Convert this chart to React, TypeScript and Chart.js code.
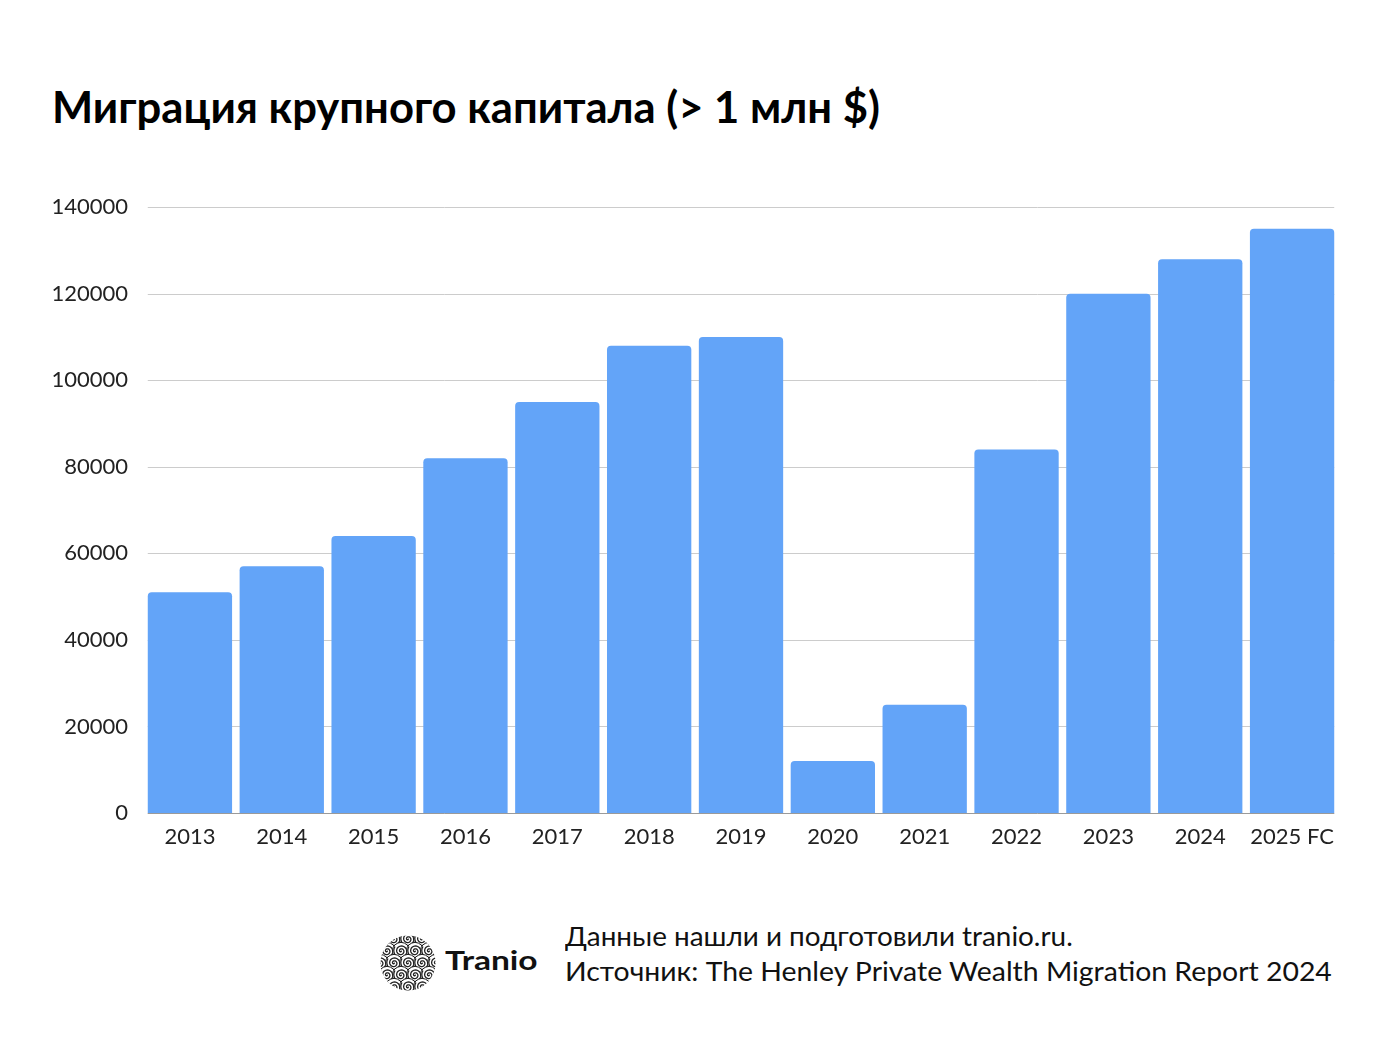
import React, { useEffect, useLayoutEffect, useRef, useState } from "react";
import { Chart, registerables } from "chart.js";

Chart.register(...registerables);

const categories = ["2013", "2014", "2015", "2016", "2017", "2018", "2019", "2020", "2021", "2022", "2023", "2024", "2025 FC"];
const values = [51000, 57000, 64000, 82000, 95000, 108000, 110000, 12000, 25000, 84000, 120000, 128000, 135000];
const yMin = 0;
const yMax = 140000;
const yStep = 20000;
const titleText = "Миграция крупного капитала (> 1 млн $)";
const footerLines = ["Данные нашли и подготовили tranio.ru.", "Источник: The Henley Private Wealth Migration Report 2024"];
const brandText = "Tranio";

const BAR_COLOR = "rgb(99,164,248)";
const BAR_PCT = 0.918;
const FONT = "Lato, 'Open Sans', sans-serif";

function FitText({ text, width, style }: { text: string; width: number; style: React.CSSProperties }) {
  const ref = useRef<HTMLSpanElement>(null);
  const [sx, setSx] = useState(1);
  useLayoutEffect(() => {
    const measure = () => {
      if (ref.current) {
        const w = ref.current.offsetWidth;
        if (w > 0) setSx(width / w);
      }
    };
    measure();
    (document as any).fonts?.ready?.then(measure);
  }, [text, width]);
  return (
    <span
      ref={ref}
      style={{
        ...style,
        display: "inline-block",
        whiteSpace: "nowrap",
        transform: `scaleX(${sx})`,
        transformOrigin: "left top",
      }}
    >
      {text}
    </span>
  );
}

function spiralPath(cx: number, cy: number, r: number, turns: number): string {
  const steps = 60;
  let d = "";
  for (let i = 0; i <= steps; i++) {
    const t = i / steps;
    const a = t * turns * Math.PI * 2;
    const rr = t * r;
    const x = cx + rr * Math.cos(a);
    const y = cy + rr * Math.sin(a);
    d += (i === 0 ? "M" : "L") + x.toFixed(2) + " " + y.toFixed(2) + " ";
  }
  return d;
}

const logoSpirals: [number, number][] = [
  [-14, -24], [0, -24], [14, -24],
  [-21, -12], [-7, -12], [7, -12], [21, -12],
  [-28, 0], [-14, 0], [0, 0], [14, 0], [28, 0],
  [-21, 12], [-7, 12], [7, 12], [21, 12],
  [-14, 24], [0, 24], [14, 24],
];

function Logo() {
  const R = 27.5;
  return (
    <svg width={60} height={60} viewBox="-30 -30 60 60" style={{ position: "absolute", left: 378, top: 933 }}>
      <defs>
        <clipPath id="lc">
          <circle cx={0} cy={0} r={R} />
        </clipPath>
      </defs>
      <g clipPath="url(#lc)">
        <rect x={-30} y={-30} width={60} height={60} fill="#fff" />
        {logoSpirals.map(([x, y], i) => (
          <g key={i}>
            <circle cx={x} cy={y} r={8.6} fill="#fff" stroke="#222" strokeWidth={1} />
            <path d={spiralPath(x, y, 7.5, 2.6)} fill="none" stroke="#222" strokeWidth={1.3} />
          </g>
        ))}
      </g>
    </svg>
  );
}

// Grid lines and baseline drawn from the y scale, inset to span from first bar edge to last bar edge
const insetGridPlugin = {
  id: "insetGrid",
  beforeDatasetsDraw(chart: any) {
    const { ctx, chartArea, scales } = chart;
    const y = scales.y;
    const catW = (chartArea.right - chartArea.left) / categories.length;
    const inset = (catW * (1 - BAR_PCT)) / 2;
    const l = chartArea.left + inset;
    const r = chartArea.right - inset;
    ctx.save();
    ctx.strokeStyle = "#cccccc";
    ctx.lineWidth = 1;
    y.ticks.forEach((t: any) => {
      const py = Math.round(y.getPixelForValue(t.value)) + 0.5;
      ctx.beginPath();
      ctx.moveTo(l, py);
      ctx.lineTo(r, py);
      ctx.stroke();
    });
    ctx.restore();
  },
  afterDatasetsDraw(chart: any) {
    const { ctx, chartArea, scales } = chart;
    const y = scales.y;
    const catW = (chartArea.right - chartArea.left) / categories.length;
    const inset = (catW * (1 - BAR_PCT)) / 2;
    const l = chartArea.left + inset;
    const r = chartArea.right - inset;
    const py = Math.round(y.getPixelForValue(0)) + 0.5;
    ctx.save();
    ctx.strokeStyle = "#9a9a9a";
    ctx.lineWidth = 1;
    ctx.beginPath();
    ctx.moveTo(l, py);
    ctx.lineTo(r, py);
    ctx.stroke();
    ctx.restore();
  },
};

export default function App() {
  const canvasRef = useRef<HTMLCanvasElement>(null);

  useEffect(() => {
    if (!canvasRef.current) return;
    const chart = new Chart(canvasRef.current, {
      type: "bar",
      data: {
        labels: categories,
        datasets: [
          {
            data: values,
            backgroundColor: BAR_COLOR,
            borderRadius: { topLeft: 4, topRight: 4, bottomLeft: 0, bottomRight: 0 },
            borderSkipped: "start",
            barPercentage: BAR_PCT,
            categoryPercentage: 1,
          },
        ],
      },
      options: {
        animation: false,
        responsive: false,
        devicePixelRatio: 1,
        layout: { padding: { top: 20, right: 48, left: 0, bottom: 0 } },
        plugins: { legend: { display: false }, tooltip: { enabled: false }, title: { display: false } },
        scales: {
          x: {
            grid: { display: false, drawTicks: false },
            border: { display: false },
            ticks: { font: { family: FONT, size: 22 }, color: "#222", padding: 11, maxRotation: 0, autoSkip: false },
            afterFit: (s: any) => {
              s.height = 50;
            },
          },
          y: {
            min: yMin,
            max: yMax,
            grid: { display: false, drawTicks: false },
            border: { display: false },
            ticks: {
              stepSize: yStep,
              font: { family: FONT, size: 22 },
              color: "#222",
              padding: 16,
              callback: (v: any) => String(v),
            },
            afterFit: (s: any) => {
              s.width = 144;
            },
          },
        },
      },
      plugins: [insetGridPlugin],
    });
    (document as any).fonts?.ready?.then(() => chart.update());
    return () => chart.destroy();
  }, []);

  return (
    <div style={{ position: "absolute", left: 0, top: 0, width: 1386, height: 1040, background: "#fff", overflow: "hidden" }}>
      <div style={{ position: "absolute", left: 52, top: 85 }}>
        <FitText
          text={titleText}
          width={828}
          style={{ fontFamily: FONT, fontWeight: 700, fontSize: 43, lineHeight: "43px", color: "#000" }}
        />
      </div>
      <canvas ref={canvasRef} width={1386} height={685} style={{ position: "absolute", left: 0, top: 178, width: 1386, height: 685 }} />
      <Logo />
      <div style={{ position: "absolute", left: 445, top: 946 }}>
        <FitText
          text={brandText}
          width={93}
          style={{ fontFamily: FONT, fontWeight: 700, fontSize: 27, lineHeight: "27px", color: "#111" }}
        />
      </div>
      <div style={{ position: "absolute", left: 565, top: 923 }}>
        <FitText
          text={footerLines[0]}
          width={508}
          style={{ fontFamily: FONT, fontWeight: 400, fontSize: 26.5, lineHeight: "26.5px", color: "#111" }}
        />
      </div>
      <div style={{ position: "absolute", left: 565, top: 958 }}>
        <FitText
          text={footerLines[1]}
          width={767}
          style={{ fontFamily: FONT, fontWeight: 400, fontSize: 26.5, lineHeight: "26.5px", color: "#111" }}
        />
      </div>
    </div>
  );
}
